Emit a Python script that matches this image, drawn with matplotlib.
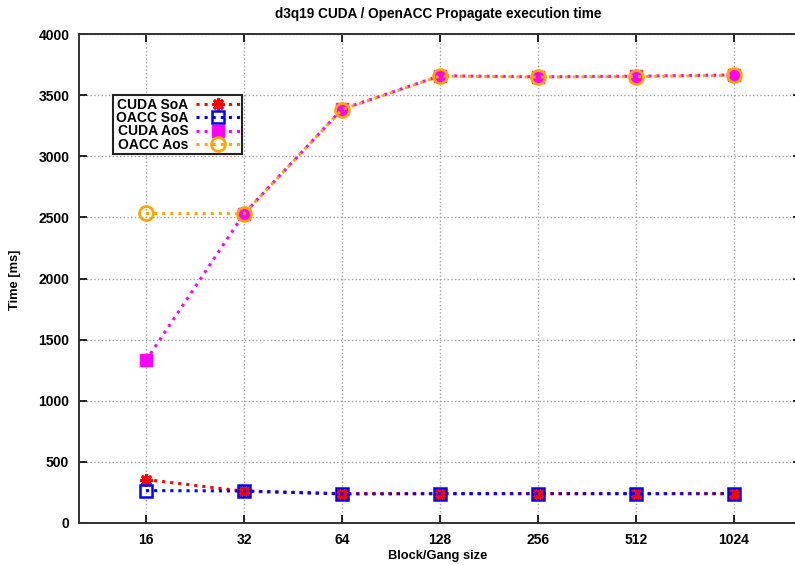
import matplotlib
matplotlib.use("Agg")
import matplotlib.pyplot as plt
from matplotlib.ticker import MultipleLocator

sizes = ["16", "32", "64", "128", "256", "512", "1024"]
cuda_soa = [355, 260, 240, 240, 240, 240, 240]
oacc_soa = [265, 262, 238, 240, 240, 240, 240]
cuda_aos = [1330, 2530, 3385, 3658, 3650, 3655, 3665]
oacc_aos = [2532, 2530, 3382, 3656, 3648, 3652, 3662]

plt.rcParams['font.family'] = ['Liberation Sans', 'DejaVu Sans']
plt.rcParams['font.weight'] = 'bold'

W, H = 795, 565
fig = plt.figure(figsize=(W/100, H/100), dpi=100)
ax = fig.add_axes([79/W, 1-523/H, (801-79)/W, (523-34)/H])
x = list(range(len(sizes)))

lw = 2.2
ax.plot(x, cuda_soa, linestyle=':', color='#ff0000', lw=lw, marker=(8, 2, 0), ms=9,
        mew=2, label='CUDA SoA', zorder=3)
ax.plot(x, oacc_soa, linestyle=':', color='#0000ff', lw=lw, marker='s', ms=9,
        mfc='none', mew=1.8, label='OACC SoA', zorder=4)
ax.plot(x, cuda_aos, linestyle=':', color='#ff00ff', lw=lw, marker='s', ms=8,
        mfc='#ff00ff', mec='#ff00ff', label='CUDA AoS', zorder=3)
ax.plot(x, oacc_aos, linestyle=':', color='#ffa500', lw=lw, marker='o', ms=10,
        mfc='none', mew=2, label='OACC Aos', zorder=4)

ax.set_xlim(-0.684, 6.684)
ax.set_ylim(0, 4000)
ax.set_xticks(x)
ax.set_xticklabels(sizes)
ax.yaxis.set_major_locator(MultipleLocator(500))
ax.tick_params(direction='in', length=6, width=1.2, top=True, right=True,
               labelsize=10, pad=7)
for lab in ax.get_xticklabels() + ax.get_yticklabels():
    lab.set_fontweight('bold')
ax.grid(True, linestyle=':', color='#a0a0a0', lw=1)
for s in ax.spines.values():
    s.set_linewidth(1.4)
    s.set_color('#333333')

leg = fig.legend(loc='upper left', bbox_to_anchor=(113/W, 1-95/H),
                 markerfirst=False, fancybox=False, framealpha=1,
                 edgecolor='#222222', borderpad=0.2, labelspacing=-0.05,
                 handlelength=3.1, handletextpad=0.6, borderaxespad=0,
                 prop={'size': 10, 'weight': 'bold'})
leg.get_frame().set_linewidth(1.5)

fig.text(438/W, 1-14/H, 'd3q19 CUDA / OpenACC Propagate execution time',
         ha='center', va='center', fontsize=9.8, fontweight='bold')
fig.text(438/W, 1-556/H, 'Block/Gang size', ha='center', va='center',
         fontsize=9.3, fontweight='bold')
fig.text(15/W, 1-280/H, 'Time [ms]', ha='center', va='center', rotation=90,
         fontsize=9.3, fontweight='bold')

fig.savefig('out.png', dpi=100)
